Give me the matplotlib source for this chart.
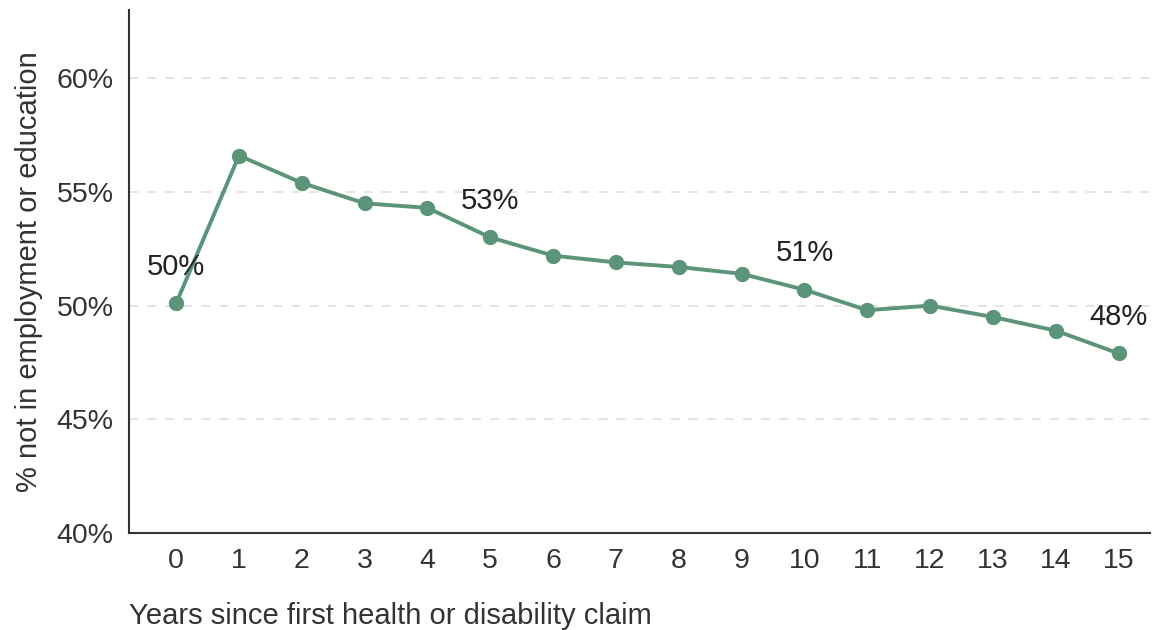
import matplotlib.pyplot as plt
from matplotlib.ticker import FuncFormatter

plt.rcParams['font.family'] = ['Liberation Sans', 'DejaVu Sans']

# Data
years = list(range(16))
share = [50.1, 56.6, 55.4, 54.5, 54.3, 53.0, 52.2, 51.9, 51.7, 51.4,
         50.7, 49.8, 50.0, 49.5, 48.9, 47.9]
label_years = [0, 5, 10, 15]
label_texts = ["50%", "53%", "51%", "48%"]
yticks = [40, 45, 50, 55, 60]

green = "#5b9479"
dark = "#333333"

fig = plt.figure(figsize=(11.54, 6.3), dpi=100)
ax = fig.add_axes([0.1118, 0.154, 0.8847, 0.83])

for y in yticks[1:]:
    ax.axhline(y, color="#e2e2e2", lw=1.3, ls=(0, (5, 5)), zorder=0)

ax.plot(years, share, color=green, lw=2.8, marker="o", ms=10, zorder=3)

for yr, txt in zip(label_years, label_texts):
    ax.annotate(txt, (yr, share[yr]), xytext=(0, 16), textcoords="offset points",
                ha="center", va="bottom", fontsize=21, color="#222222")

ax.set_xlim(-0.75, 15.5)
ax.set_ylim(40, 63)
ax.set_xticks(years)
ax.set_yticks(yticks)
ax.yaxis.set_major_formatter(FuncFormatter(lambda v, p: f"{v:.0f}%"))
ax.tick_params(length=0, labelsize=20.5, colors=dark, pad=11)

for s in ["top", "right"]:
    ax.spines[s].set_visible(False)
for s in ["left", "bottom"]:
    ax.spines[s].set_color(dark)
    ax.spines[s].set_linewidth(1.5)

ax.set_xlabel("Years since first health or disability claim", fontsize=21,
              color=dark, loc="left", labelpad=20)
ax.set_ylabel("% not in employment or education", fontsize=21, color=dark,
              labelpad=10)

fig.savefig("out.png", dpi=100)
